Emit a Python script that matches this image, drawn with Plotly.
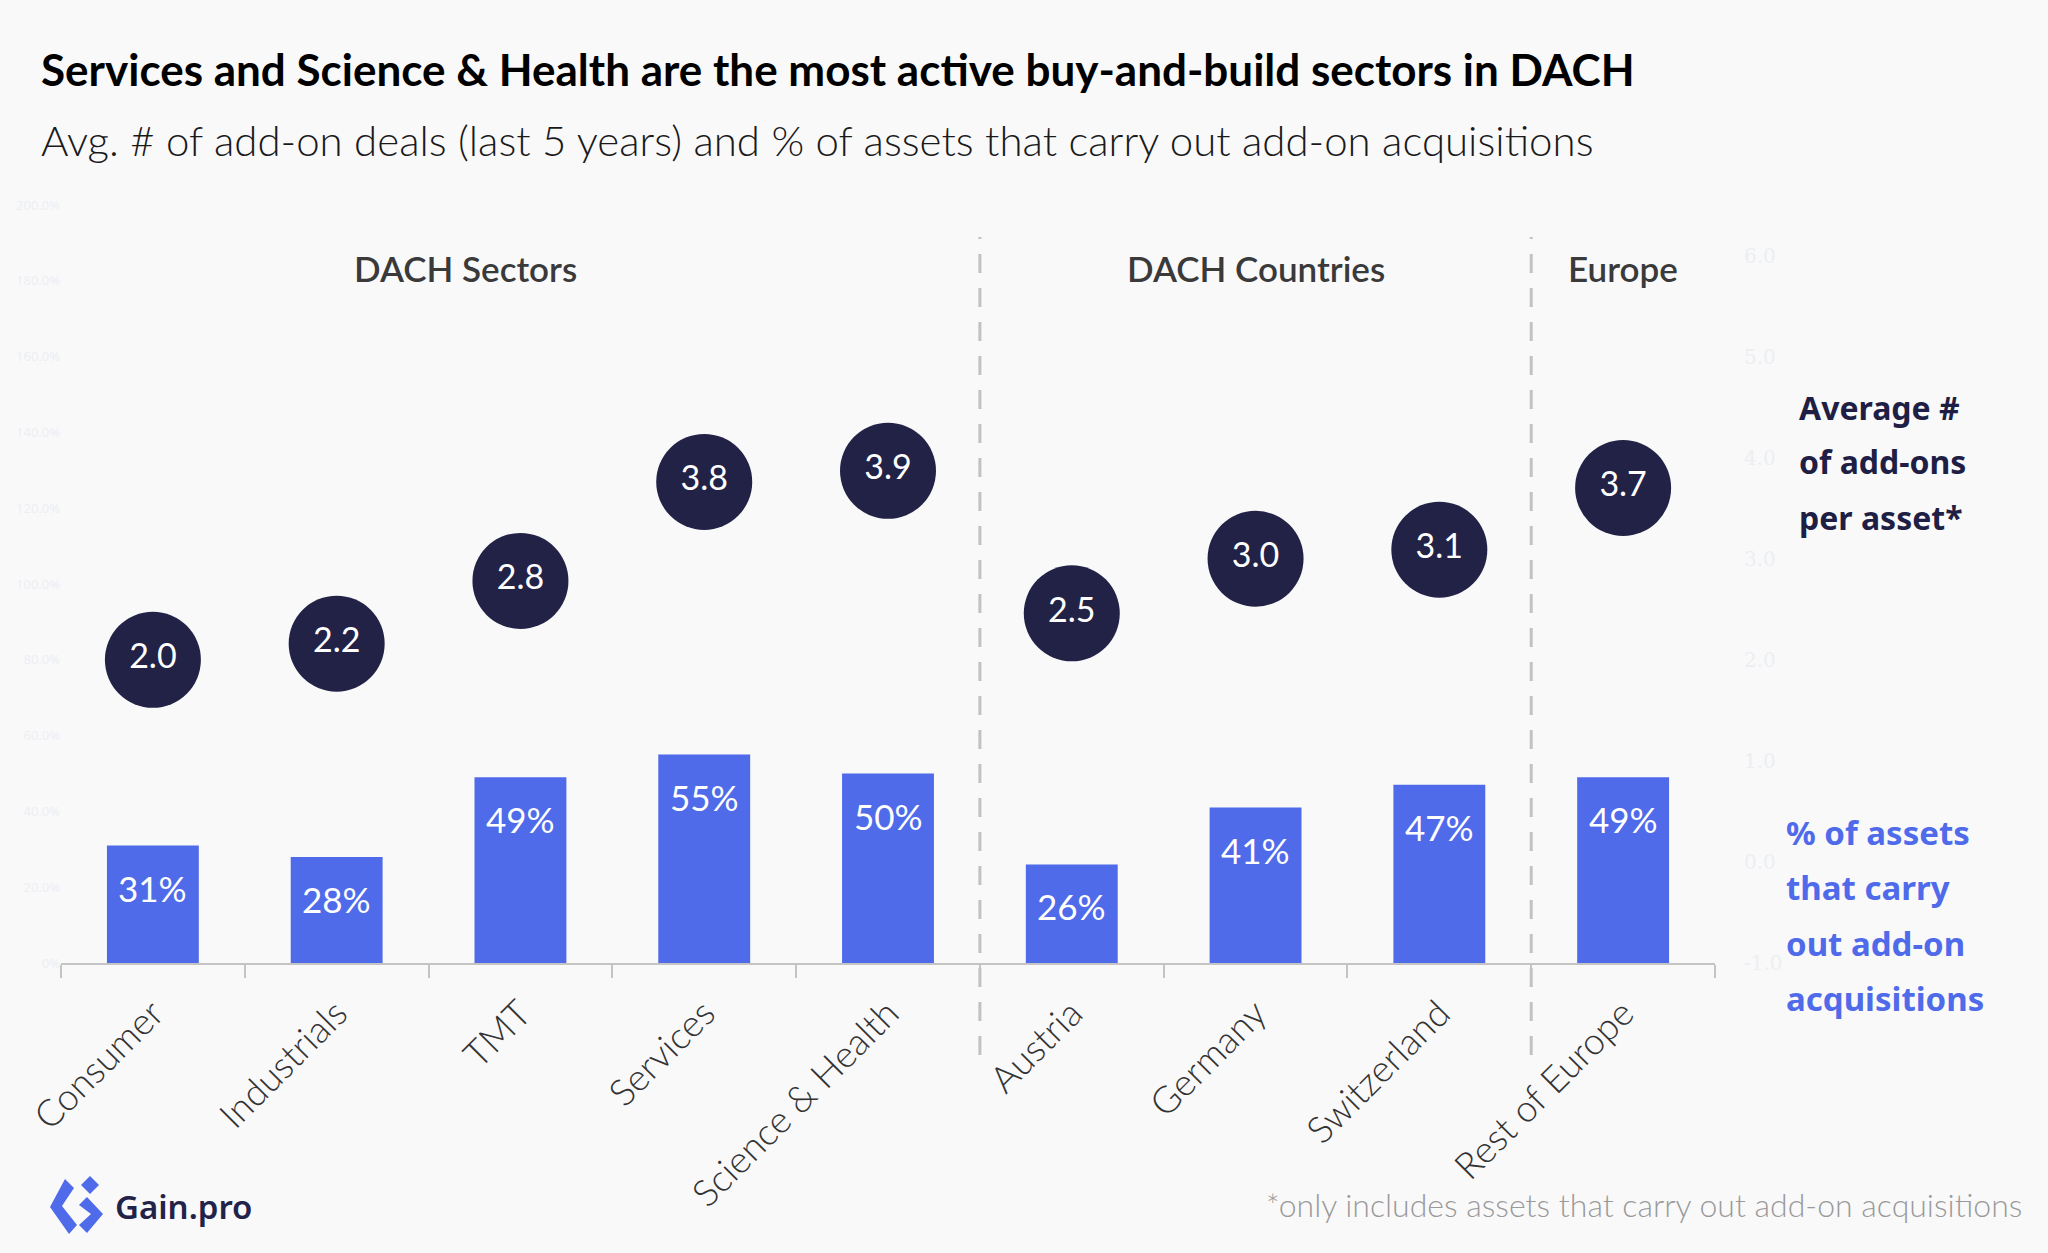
import plotly.graph_objects as go

categories = ["Consumer", "Industrials", "TMT", "Services", "Science & Health",
              "Austria", "Germany", "Switzerland", "Rest of Europe"]
pct_assets = [31, 28, 49, 55, 50, 26, 41, 47, 49]
# average add-ons per asset (labels show one decimal)
avg_addons = [2.0, 2.16, 2.78, 3.76, 3.87, 2.46, 3.0, 3.09, 3.7]
left_ticks = [0, 20, 40, 60, 80, 100, 120, 140, 160, 180, 200]
left_ticktext = ["0%", "20.0%", "40.0%", "60.0%", "80.0%", "100.0%", "120.0%",
                 "140.0%", "160.0%", "180.0%", "200.0%"]
right_ticks = [-1, 0, 1, 2, 3, 4, 5, 6]
group_labels = ["DACH Sectors", "DACH Countries", "Europe"]
group_centers = [1.7, 6, 8]
dividers = [4.5, 7.5]

W, H = 2048, 1253
L, R, T, B = 61, 1715, 205, 963
BLUE = "#4f6bea"
NAVY = "#222247"
BG = "#f9f9fa"
FAINT = "#eceef2"


def px(x):
    return (x - L) / (R - L)


def py(y):
    return (B - y) / (B - T)


fig = go.Figure()
fig.add_trace(go.Bar(
    x=categories, y=pct_assets, width=0.5, marker=dict(color=BLUE, line=dict(width=0)),
    yaxis="y", showlegend=False, hoverinfo="skip"))
fig.add_trace(go.Scatter(
    x=categories, y=avg_addons, yaxis="y2", mode="markers+text",
    marker=dict(size=96, color=NAVY, line=dict(width=0)),
    text=[f"{v:.1f}" for v in avg_addons], textposition="middle center",
    textfont=dict(family="Lato", size=34, color="white"),
    showlegend=False, hoverinfo="skip", cliponaxis=False))

annotations = []
for c, v in zip(categories, pct_assets):
    annotations.append(dict(x=c, y=v, xref="x", yref="y", text=f"{v}%", showarrow=False,
                            yanchor="middle", yshift=-42,
                            font=dict(family="Lato", size=35, color="white")))

for lab, c in zip(group_labels, group_centers):
    annotations.append(dict(x=c, y=py(268), xref="x", yref="paper", text=lab, showarrow=False,
                            xanchor="center", yanchor="middle",
                            font=dict(family="Lato", size=35, color="#3a3a3a", weight=600)))

annotations.append(dict(x=px(39), y=py(69), xref="paper", yref="paper",
                        text="Services and Science & Health are the most active buy-and-build sectors in DACH",
                        showarrow=False, xanchor="left", yanchor="middle",
                        font=dict(family="Lato", size=44, color="#000000", weight=700)))
annotations.append(dict(x=px(39), y=py(140), xref="paper", yref="paper",
                        text="Avg. # of add-on deals (last 5 years) and % of assets that carry out add-on acquisitions",
                        showarrow=False, xanchor="left", yanchor="middle",
                        font=dict(family="Lato", size=42, color="#1a1a1a", weight=300)))

for i, line in enumerate(["Average #", "of add-ons", "per asset*"]):
    annotations.append(dict(x=px(1797), y=py(407 + 55 * i), xref="paper", yref="paper", text=line,
                            showarrow=False, xanchor="left", yanchor="middle",
                            font=dict(family="Noto Sans", size=32, color="#1f1f45", weight=700)))
for i, line in enumerate(["% of assets", "that carry", "out add-on", "acquisitions"]):
    annotations.append(dict(x=px(1784), y=py(832 + 55.5 * i), xref="paper", yref="paper", text=line,
                            showarrow=False, xanchor="left", yanchor="middle",
                            font=dict(family="Noto Sans", size=33, color=BLUE, weight=700)))

annotations.append(dict(x=px(2024), y=py(1204), xref="paper", yref="paper",
                        text="*only includes assets that carry out add-on acquisitions",
                        showarrow=False, xanchor="right", yanchor="middle",
                        font=dict(family="Lato", size=32, color="#9a9a9a", weight=300)))
annotations.append(dict(x=px(113), y=py(1206), xref="paper", yref="paper", text="Gain.pro",
                        showarrow=False, xanchor="left", yanchor="middle",
                        font=dict(family="Noto Sans", size=33, color="#23234a", weight=600)))

shapes = []
for d in dividers:
    shapes.append(dict(type="line", xref="x", yref="paper", x0=d, x1=d, y0=py(1055), y1=py(237),
                       line=dict(color="#c2c2c2", width=3, dash="19px,15px"), layer="above"))


def poly(points):
    s = "M " + " L ".join(f"{px(a):.5f},{py(b):.5f}" for a, b in points) + " Z"
    return dict(type="path", xref="paper", yref="paper", path=s,
                fillcolor=BLUE, line=dict(width=0), layer="above")


shapes.append(poly([(65, 1179), (74, 1188), (62, 1206), (77, 1225), (69, 1234), (50, 1207)]))
shapes.append(poly([(90, 1176), (99, 1185), (90, 1194), (81, 1185)]))
shapes.append(poly([(87, 1197), (103, 1214), (87, 1233), (79, 1225), (91, 1214), (79, 1205)]))

fig.update_layout(
    width=W, height=H,
    margin=dict(l=L, r=W - R, t=T, b=H - B, pad=0),
    paper_bgcolor=BG, plot_bgcolor=BG,
    bargap=0.5,
    xaxis=dict(type="category", showline=True, linecolor="#c4c4c4", linewidth=2,
               ticks="outside", tickson="boundaries", ticklen=13, tickcolor="#c4c4c4", tickwidth=2,
               tickangle=-45, ticklabelstandoff=12,
               tickfont=dict(family="Lato", size=37, color="#333333", weight=300),
               showgrid=False, zeroline=False, range=[-0.5, 8.5]),
    yaxis=dict(range=[0, 200], tickvals=left_ticks, ticktext=left_ticktext, showgrid=False,
               zeroline=False, showline=False, tickfont=dict(size=13, color=FAINT)),
    yaxis2=dict(range=[-1, 6.5], overlaying="y", side="right", tickvals=right_ticks,
                ticktext=[f"{v:.1f}" for v in right_ticks], showgrid=False, zeroline=False,
                showline=False, ticklabelstandoff=28,
                tickfont=dict(family="DejaVu Serif", size=20, color=FAINT)),
    annotations=annotations,
    shapes=shapes,
    showlegend=False,
)

fig.write_html("out.html")
